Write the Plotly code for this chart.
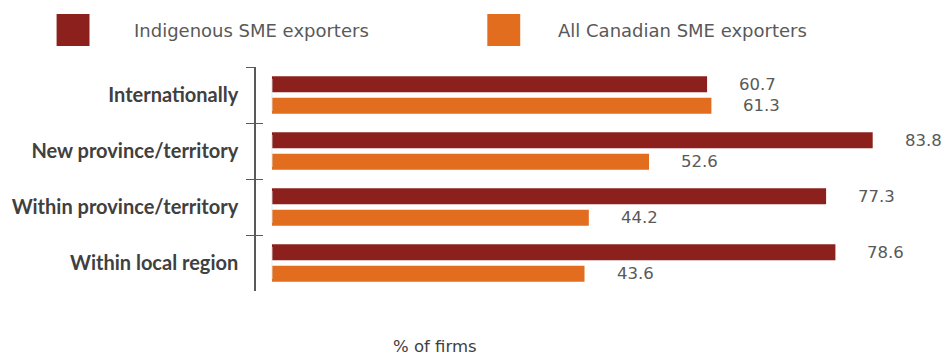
import plotly.graph_objects as go

# Data
categories = ["Internationally", "New province/territory",
              "Within province/territory", "Within local region"]
indigenous = [60.7, 83.8, 77.3, 78.6]
all_canadian = [61.3, 52.6, 44.2, 43.6]
series_names = ["Indigenous SME exporters", "All Canadian SME exporters"]
series_colors = ["#8B201C", "#E36D1F"]
x_title = "% of firms"

W, H = 943, 356
M_L, M_R, M_T, M_B = 254, 13, 67, 65
plot_w = W - M_L - M_R
plot_h = H - M_T - M_B
px_per_unit = 7.19
x_min = -16 / px_per_unit
x_max = x_min + plot_w / px_per_unit

REG = "'DejaVu Sans', Verdana, sans-serif"
value_font = dict(family=REG, size=16.5, color="#595959")
legend_font = dict(family=REG, size=18, color="#595959")


def px_x(p):
    return (p - M_L) / plot_w


def px_y(p):
    return 1 - (p - M_T) / plot_h


fig = go.Figure()
for name, vals, col in zip(series_names, [indigenous, all_canadian], series_colors):
    fig.add_trace(go.Bar(
        y=categories, x=vals, orientation="h", name=name,
        marker=dict(color=col, line=dict(width=0)),
        showlegend=False, hoverinfo="x+y",
    ))

# value labels to the right of each bar
for vals, shift in [(indigenous, 10.7), (all_canadian, -10.7)]:
    for cat, v in zip(categories, vals):
        fig.add_annotation(x=v, y=cat, xref="x", yref="y", text=f"{v:.1f}",
                           showarrow=False, xanchor="left", yanchor="middle",
                           xshift=30, yshift=shift, font=value_font)

# legend swatches and labels
swatch_x = [54, 486]
text_x = [130, 555]
for i, (name, col) in enumerate(zip(series_names, series_colors)):
    fig.add_shape(type="rect", xref="paper", yref="paper",
                  x0=px_x(swatch_x[i]), x1=px_x(swatch_x[i] + 33),
                  y0=px_y(46), y1=px_y(14), fillcolor=col, line=dict(width=0))
    fig.add_annotation(xref="paper", yref="paper", x=px_x(text_x[i]), y=px_y(31),
                       text=name, showarrow=False, xanchor="left", yanchor="middle",
                       font=legend_font)

# x-axis caption
fig.add_annotation(xref="paper", yref="paper", x=px_x(434), y=px_y(346),
                   text=x_title, showarrow=False, xanchor="center", yanchor="middle",
                   font=dict(family=REG, size=16.5, color="#404040"))

fig.update_layout(
    width=W, height=H,
    margin=dict(l=M_L, r=M_R, t=M_T, b=M_B, pad=0),
    plot_bgcolor="white", paper_bgcolor="white",
    barmode="group", bargap=0.238, bargroupgap=0.25,
    xaxis=dict(range=[x_min, x_max], visible=False, fixedrange=True),
    yaxis=dict(
        type="category", categoryorder="array", categoryarray=categories,
        autorange="reversed", showline=True, linecolor="#595959", linewidth=1.5,
        ticks="outside", ticklen=8, tickwidth=1.2, tickcolor="#595959",
        tickson="boundaries", showgrid=False, zeroline=False,
        ticklabelstandoff=12,
        tickfont=dict(family="Lato, 'Open Sans', sans-serif", size=20,
                      color="#404040", weight="bold"),
    ),
    yaxis2=dict(
        overlaying="y", matches="y", type="category",
        categoryorder="array", categoryarray=categories,
        showline=False, ticks="inside", ticklen=7, tickwidth=1.2,
        tickcolor="#595959", tickson="boundaries", showticklabels=False,
        showgrid=False, zeroline=False,
    ),
)

# invisible trace so the overlay axis carries the same category boundaries
fig.add_trace(go.Bar(y=categories, x=[0] * len(categories), orientation="h",
                     yaxis="y2", showlegend=False, hoverinfo="skip",
                     marker=dict(color="rgba(0,0,0,0)")))

fig.write_html("out.html")
